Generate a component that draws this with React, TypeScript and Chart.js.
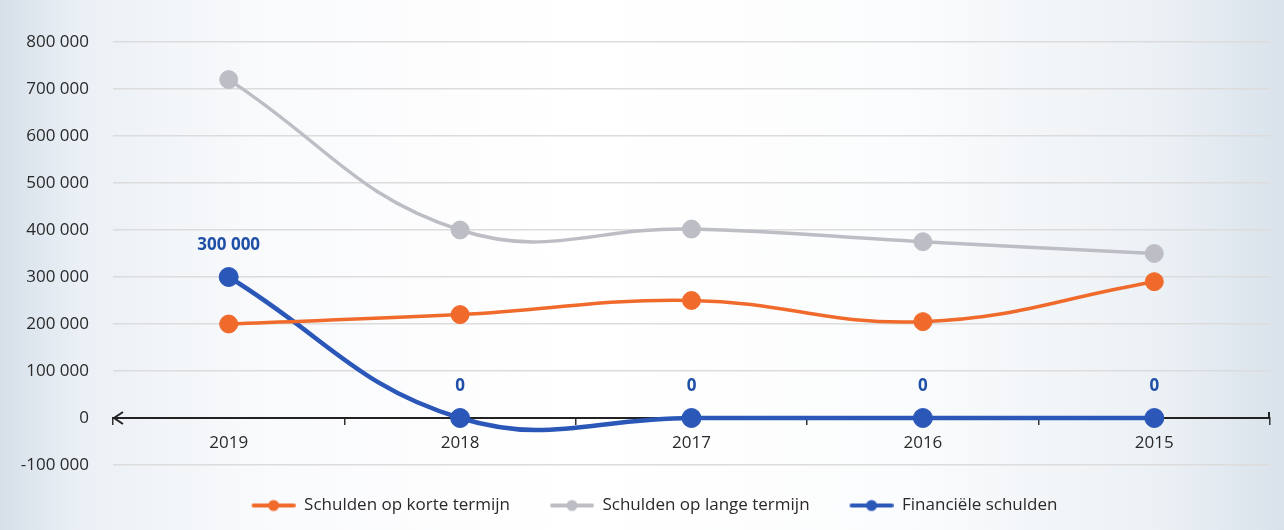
import React, { useEffect, useRef } from "react";
import { Chart, registerables } from "chart.js";

Chart.register(...registerables);

const categories = ["2019", "2018", "2017", "2016", "2015"];
const korteTermijn = [200000, 220000, 250000, 205000, 290000];
const langeTermijn = [720000, 400000, 402000, 375000, 350000];
const financieleSchulden = [300000, 0, 0, 0, 0];
const seriesNames = ["Schulden op korte termijn", "Schulden op lange termijn", "Financiële schulden"];
const yMin = -100000;
const yMax = 800000;
const yStep = 100000;

const ORANGE = "#F06A2C";
const GRAY = "#BDBDC5";
const BLUE = "#2B57B8";
const LABEL_BLUE = "#1F4FA6";
const TEXT = "#2a2a2a";
const FONT = '"Open Sans", "Noto Sans", sans-serif';

const fmt = (v: number) => String(v).replace(/\B(?=(\d{3})+(?!\d))/g, " ");

function makeLegendMarker(color: string): HTMLCanvasElement {
  const c = document.createElement("canvas");
  c.width = 52;
  c.height = 14;
  const g = c.getContext("2d")!;
  g.strokeStyle = color;
  g.lineWidth = 4;
  g.lineCap = "round";
  g.beginPath();
  g.moveTo(10, 7);
  g.lineTo(50, 7);
  g.stroke();
  g.fillStyle = color;
  g.beginPath();
  g.arc(30, 7, 5.5, 0, Math.PI * 2);
  g.fill();
  return c;
}

const dataLabelPlugin = {
  id: "dataLabels",
  afterDatasetsDraw(chart: any) {
    const ctx = chart.ctx;
    const meta = chart.getDatasetMeta(2);
    const ds = chart.data.datasets[2];
    ctx.save();
    ctx.font = `bold 17px ${FONT}`;
    ctx.fillStyle = LABEL_BLUE;
    ctx.textAlign = "center";
    ctx.textBaseline = "middle";
    meta.data.forEach((pt: any, i: number) => {
      ctx.fillText(fmt(ds.data[i] as number), pt.x, pt.y - 32);
    });
    ctx.restore();
  },
};

const axisArrowPlugin = {
  id: "axisArrow",
  afterDatasetsDraw(chart: any) {
    const { ctx, chartArea } = chart;
    const y0 = chart.scales.y.getPixelForValue(0);
    ctx.save();
    ctx.strokeStyle = "#222";
    ctx.lineWidth = 2;
    ctx.beginPath();
    ctx.moveTo(chartArea.left + 10, y0 - 6);
    ctx.lineTo(chartArea.left + 1, y0);
    ctx.lineTo(chartArea.left + 10, y0 + 6);
    ctx.stroke();
    ctx.beginPath();
    ctx.moveTo(chartArea.right - 1, y0);
    ctx.lineTo(chartArea.right - 1, y0 - 6);
    ctx.stroke();
    ctx.restore();
  },
};

export default function App() {
  const ref = useRef<HTMLCanvasElement>(null);

  useEffect(() => {
    if (!ref.current) return;
    const colors = [ORANGE, GRAY, BLUE];
    const markers = colors.map(makeLegendMarker);
    const values = [korteTermijn, langeTermijn, financieleSchulden];
    const chart = new Chart(ref.current, {
      type: "line",
      data: {
        labels: categories,
        datasets: values.map((vals, i) => ({
          label: seriesNames[i],
          data: vals,
          yAxisID: "y",
          borderColor: colors[i],
          backgroundColor: colors[i],
          pointBackgroundColor: colors[i],
          pointBorderColor: colors[i],
          borderWidth: i === 2 ? 4.5 : 3.5,
          pointRadius: i === 2 ? 9.5 : 9,
          pointBorderWidth: 1,
          tension: 0.42,
          fill: false,
        })),
      },
      options: {
        animation: false,
        responsive: false,
        events: [],
        layout: { padding: { top: 42, right: -17, bottom: 6, left: 0 } },
        scales: {
          x: {
            type: "category",
            position: { y: 0 } as any,
            offset: true,
            grid: {
              display: true,
              drawOnChartArea: false,
              drawTicks: true,
              tickLength: 6,
              offset: true,
              color: "#333",
              lineWidth: 1.5,
            },
            border: { display: true, color: "#222", width: 2 },
            ticks: { color: TEXT, font: { family: FONT, size: 17 }, padding: 9 },
          },
          y: {
            min: yMin,
            max: yMax,
            afterFit: (scale: any) => {
              scale.width = 113;
            },
            ticks: {
              stepSize: yStep,
              color: TEXT,
              font: { family: FONT, size: 17 },
              padding: 24,
              callback: (v: any) => fmt(Number(v)),
            },
            grid: {
              drawTicks: false,
              color: (c: any) => (c.tick && c.tick.value === 0 ? "rgba(0,0,0,0)" : "#dcdcdc"),
              lineWidth: 1.5,
            },
            border: { display: false },
          },
          yRight: {
            position: "right",
            min: yMin,
            max: yMax,
            afterFit: (scale: any) => {
              scale.width = 31;
            },
            ticks: { display: false },
            grid: { display: false, drawTicks: false },
            border: { display: false },
          },
        },
        plugins: {
          legend: {
            position: "bottom",
            labels: {
              usePointStyle: true,
              pointStyleWidth: 52,
              boxHeight: 14,
              padding: 32,
              color: TEXT,
              font: { family: FONT, size: 17 },
              generateLabels: (ch: any) =>
                ch.data.datasets.map((ds: any, i: number) => ({
                  text: ds.label,
                  fillStyle: colors[i],
                  strokeStyle: colors[i],
                  lineWidth: 0,
                  pointStyle: markers[i],
                  hidden: false,
                  datasetIndex: i,
                  fontColor: TEXT,
                })),
            },
          },
          tooltip: { enabled: false },
        },
      },
      plugins: [dataLabelPlugin, axisArrowPlugin],
    });
    return () => chart.destroy();
  }, []);

  return (
    <div
      style={{
        position: "fixed",
        left: 0,
        top: 0,
        width: 1284,
        height: 530,
        background:
          "linear-gradient(90deg, #d6dfe9 0%, #eaf0f5 6%, #f9fafc 20%, #ffffff 45%, #fbfcfd 70%, #ecf1f5 90%, #d9e2eb 100%)",
      }}
    >
      <canvas ref={ref} width={1284} height={530} style={{ display: "block" }} />
    </div>
  );
}
